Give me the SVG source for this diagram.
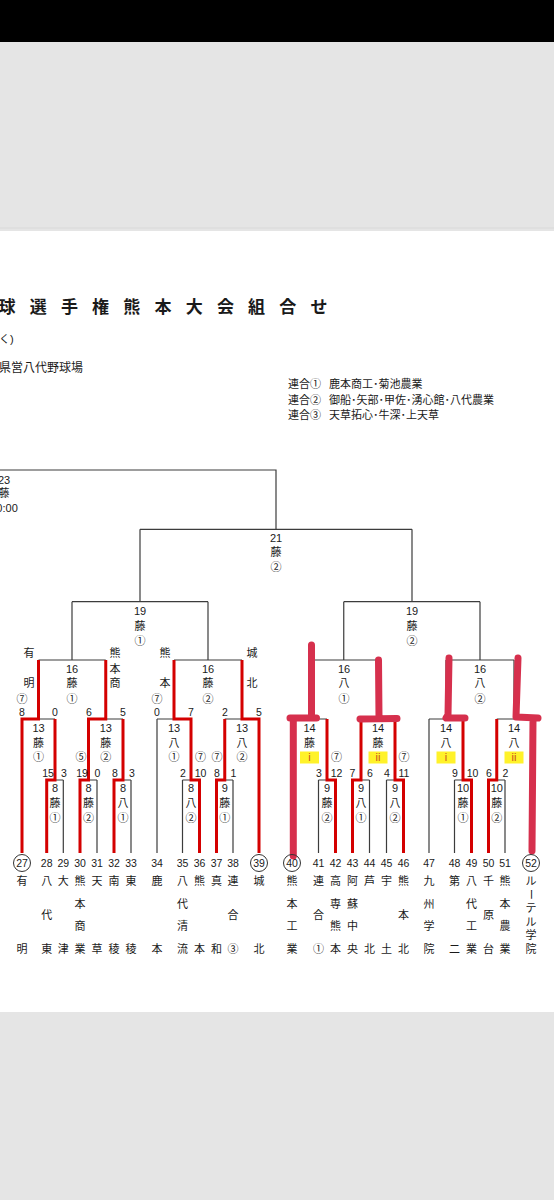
<svg xmlns="http://www.w3.org/2000/svg" width="554" height="1200" viewBox="0 0 554 1200">
<style>
.t{font-family:"Liberation Sans","Noto Sans CJK JP",sans-serif;font-size:11px;fill:#1a1a1a;text-anchor:middle}
.n{font-size:10.5px}
.hd{font-family:"Liberation Sans","Noto Sans CJK JP",sans-serif;fill:#1a1a1a}
.ln{stroke:#3c3c3c;stroke-width:1.2;fill:none}
.rd{stroke:#d40000;stroke-width:3;fill:none}
.mk{stroke:#d6304d;stroke-width:7;fill:none;stroke-linecap:round;stroke-linejoin:round}
.yb{fill:#fff22a}
.yt{fill:#c8501e}
.cc{fill:none;stroke:#333;stroke-width:1}
</style>
<rect x="0" y="0" width="554" height="1200" fill="#e5e5e5"/>
<rect x="0" y="0" width="554" height="42" fill="#000"/>
<line x1="0" y1="228" x2="554" y2="228" stroke="#d9d9d9" stroke-width="1"/>
<rect x="0" y="231" width="554" height="781" fill="#fff"/>

<g id="header">
<text class="hd" font-size="17" font-weight="bold" y="312.5" text-anchor="middle"><tspan x="7">球</tspan><tspan x="38.2">選</tspan><tspan x="69.4">手</tspan><tspan x="100.6">権</tspan><tspan x="131.8">熊</tspan><tspan x="163">本</tspan><tspan x="194.2">大</tspan><tspan x="225.4">会</tspan><tspan x="256.6">組</tspan><tspan x="287.8">合</tspan><tspan x="319">せ</tspan></text>
<text class="hd" font-size="11" x="-1" y="343">く)</text>
<text class="hd" font-size="12" x="-1" y="372">県営八代野球場</text>
<text class="hd" font-size="11" y="388"><tspan x="288">連合①</tspan><tspan x="329">鹿本商工･菊池農業</tspan></text>
<text class="hd" font-size="11" y="404"><tspan x="288">連合②</tspan><tspan x="329">御船･矢部･甲佐･湧心館･八代農業</tspan></text>
<text class="hd" font-size="11" y="419"><tspan x="288">連合③</tspan><tspan x="329">天草拓心･牛深･上天草</tspan></text>
</g>

<g id="connectors">
<path class="ln" d="M0,470 H276 V529.3 M140,529.3 H412 M140,529.3 V601.7 M72,601.7 H208 M412,529.3 V601.7 M343.75,601.7 H480"/>
<path class="ln" d="M72,601.7 V660 M38.5,660 H105.75 M208,601.7 V660 M174,660 H242 M343.75,601.7 V660 M309.5,660 H378 M480,601.7 V660 M446,660 H514"/>
<path class="ln" d="M38.5,660 V719 M22,719 H55 M105.75,660 V719 M88.5,719 H123 M174,660 V719 M157,719 H191 M242,660 V719 M224.75,719 H259 M309.5,660 V719 M292,719 H327 M378,660 V719 M361,719 H395 M446,660 V719 M429,719 H463 M514,660 V719 M496.75,719 H531"/>
<path class="ln" d="M55,719 V780 M46.7,780 H63.3 M88.5,719 V780 M80,780 H97 M123,719 V780 M114,780 H131 M191,719 V780 M182.5,780 H199.5 M224.75,719 V780 M216.5,780 H233 M327,719 V780 M318.5,780 H335.5 M361,719 V780 M352.5,780 H369.5 M395,719 V780 M386.5,780 H403.5 M463,719 V780 M454.5,780 H471.5 M496.75,719 V780 M488.5,780 H505"/>
<path class="ln" d="M22,719 V853 M157,719 V853 M259,719 V853 M292,719 V853 M429,719 V853 M531,719 V853 M46.7,780 V853 M63.3,780 V853 M80,780 V853 M97,780 V853 M114,780 V853 M131,780 V853 M182.5,780 V853 M199.5,780 V853 M216.5,780 V853 M233,780 V853 M318.5,780 V853 M335.5,780 V853 M352.5,780 V853 M369.5,780 V853 M386.5,780 V853 M403.5,780 V853 M454.5,780 V853 M471.5,780 V853 M488.5,780 V853 M505,780 V853"/>
<path class="rd" d="M22,853 V719 H38.5 V660"/>
<path class="rd" d="M46.7,853 V780 H55 V719"/>
<path class="rd" d="M80,853 V780 H88.5 V719 H105.75 V660"/>
<path class="rd" d="M114,853 V780 H123 V719"/>
<path class="rd" d="M199.5,853 V780 H191 V719 H174 V660"/>
<path class="rd" d="M216.5,853 V780 H224.75 V719"/>
<path class="rd" d="M259,853 V719 H242 V660"/>
<path class="rd" d="M335.5,853 V780 H327 V719"/>
<path class="rd" d="M352.5,853 V780 H361 V719"/>
<path class="rd" d="M403.5,853 V780 H395 V719"/>
<path class="rd" d="M471.5,853 V780 H463 V719"/>
<path class="rd" d="M488.5,853 V780 H496.75 V719"/>
<path class="mk" d="M311.5,645 L311.5,718 M316.5,718 L290,718 M293.3,718 L293.3,856"/>
<path class="mk" d="M378.5,660 L379,718 M360,719 L397,718.5"/>
<path class="mk" d="M449,658 L448,715 L446,718 L465,718"/>
<path class="mk" d="M518,658 L516,717 L538,718 M533,720 L532,851"/>
</g>

<g id="m23"><text class="t" x="4" y="484">23</text><text class="t" x="4" y="497">藤</text><text class="t" x="4" y="512">10:00</text></g>
<g id="m21"><text class="t" x="276" y="541.7">21</text><text class="t" x="276" y="555.7">藤</text><text class="t" x="276" y="571">②</text></g>
<g id="m19a"><text class="t" x="140" y="615">19</text><text class="t" x="140" y="630">藤</text><text class="t" x="140" y="645">①</text></g>
<g id="m19b"><text class="t" x="412" y="615">19</text><text class="t" x="412" y="630">藤</text><text class="t" x="412" y="645">②</text></g>

<g id="m16a"><text class="t" x="72" y="673">16</text><text class="t" x="72" y="687">藤</text><text class="t" x="72" y="703">①</text>
<text class="t" x="29" y="657">有</text><text class="t" x="29" y="687">明</text>
<text class="t" x="115" y="657">熊</text><text class="t" x="115" y="673">本</text><text class="t" x="115" y="687">商</text></g>
<g id="m16b"><text class="t" x="208" y="673">16</text><text class="t" x="208" y="687">藤</text><text class="t" x="208" y="703">②</text>
<text class="t" x="165" y="657">熊</text><text class="t" x="165" y="687">本</text>
<text class="t" x="252" y="657">城</text><text class="t" x="252" y="687">北</text></g>
<g id="m16c"><text class="t" x="344" y="673">16</text><text class="t" x="344" y="687">八</text><text class="t" x="344" y="703">①</text></g>
<g id="m16d"><text class="t" x="480" y="673">16</text><text class="t" x="480" y="687">八</text><text class="t" x="480" y="703">②</text></g>

<g id="m13a"><text class="t" x="38.5" y="732">13</text><text class="t" x="38.5" y="747">藤</text><text class="t" x="38.5" y="761">①</text>
<text class="t" x="22" y="703">⑦</text><text class="t n" x="22" y="716">8</text><text class="t n" x="55" y="716">0</text></g>
<g id="m13b"><text class="t" x="105.75" y="732">13</text><text class="t" x="105.75" y="747">藤</text><text class="t" x="105.75" y="761">②</text>
<text class="t n" x="89" y="716">6</text><text class="t n" x="123" y="716">5</text></g>
<g id="m13c"><text class="t" x="174" y="732">13</text><text class="t" x="174" y="747">八</text><text class="t" x="174" y="761">①</text>
<text class="t" x="157" y="703">⑦</text><text class="t n" x="157" y="716">0</text><text class="t n" x="191" y="716">7</text></g>
<g id="m13d"><text class="t" x="242" y="732">13</text><text class="t" x="242" y="747">八</text><text class="t" x="242" y="761">②</text>
<text class="t n" x="225" y="716">2</text><text class="t n" x="259" y="716">5</text></g>
<g id="m14a"><text class="t" x="309.5" y="732">14</text><text class="t" x="309.5" y="747">藤</text><rect class="yb" x="300" y="751.5" width="19" height="12"/><text class="t yt" x="309.5" y="761">i</text></g>
<g id="m14b"><text class="t" x="378" y="732">14</text><text class="t" x="378" y="747">藤</text><rect class="yb" x="368.5" y="751.5" width="19" height="12"/><text class="t yt" x="378" y="761">ii</text></g>
<g id="m14c"><text class="t" x="446" y="732">14</text><text class="t" x="446" y="747">八</text><rect class="yb" x="436.5" y="751.5" width="19" height="12"/><text class="t yt" x="446" y="761">i</text></g>
<g id="m14d"><text class="t" x="514" y="732">14</text><text class="t" x="514" y="747">八</text><rect class="yb" x="504.5" y="751.5" width="19" height="12"/><text class="t yt" x="514" y="761">ii</text></g>

<g id="m8a"><text class="t" x="55" y="792">8</text><text class="t" x="55" y="807">藤</text><text class="t" x="55" y="822">①</text>
<text class="t n" x="48" y="777">15</text><text class="t n" x="64" y="777">3</text></g>
<g id="m8b"><text class="t" x="88.5" y="792">8</text><text class="t" x="88.5" y="807">藤</text><text class="t" x="88.5" y="822">②</text>
<text class="t" x="81" y="761">⑤</text><text class="t n" x="82" y="777">19</text><text class="t n" x="97.5" y="777">0</text></g>
<g id="m8c"><text class="t" x="123" y="792">8</text><text class="t" x="123" y="807">八</text><text class="t" x="123" y="822">①</text>
<text class="t n" x="115" y="777">8</text><text class="t n" x="132" y="777">3</text></g>
<g id="m8d"><text class="t" x="191" y="792">8</text><text class="t" x="191" y="807">八</text><text class="t" x="191" y="822">②</text>
<text class="t n" x="183" y="777">2</text><text class="t n" x="200.5" y="777">10</text><text class="t" x="200.5" y="761">⑦</text></g>
<g id="m9a"><text class="t" x="224.75" y="792">9</text><text class="t" x="224.75" y="807">藤</text><text class="t" x="224.75" y="822">①</text>
<text class="t" x="217" y="761">⑦</text><text class="t n" x="217" y="777">8</text><text class="t n" x="233.5" y="777">1</text></g>
<g id="m9b"><text class="t" x="327" y="792">9</text><text class="t" x="327" y="807">藤</text><text class="t" x="327" y="822">②</text>
<text class="t n" x="319" y="777">3</text><text class="t n" x="336.5" y="777">12</text><text class="t" x="336.5" y="761">⑦</text></g>
<g id="m9c"><text class="t" x="361" y="792">9</text><text class="t" x="361" y="807">八</text><text class="t" x="361" y="822">①</text>
<text class="t n" x="352.5" y="777">7</text><text class="t n" x="370" y="777">6</text></g>
<g id="m9d"><text class="t" x="395" y="792">9</text><text class="t" x="395" y="807">八</text><text class="t" x="395" y="822">②</text>
<text class="t n" x="387" y="777">4</text><text class="t n" x="404" y="777">11</text><text class="t" x="404" y="761">⑦</text></g>
<g id="m10a"><text class="t" x="463" y="792">10</text><text class="t" x="463" y="807">藤</text><text class="t" x="463" y="822">①</text>
<text class="t n" x="455" y="777">9</text><text class="t n" x="472.5" y="777">10</text></g>
<g id="m10b"><text class="t" x="496.75" y="792">10</text><text class="t" x="496.75" y="807">藤</text><text class="t" x="496.75" y="822">②</text>
<text class="t n" x="489" y="777">6</text><text class="t n" x="505.5" y="777">2</text></g>

<g id="team27"><circle class="cc" cx="22" cy="863" r="8.5"/><text class="t n" x="22" y="867">27</text><text class="t"><tspan x="22" y="885">有</tspan><tspan x="22" y="953">明</tspan></text></g>
<g id="team28"><text class="t n" x="46.7" y="867">28</text><text class="t"><tspan x="46.7" y="885">八</tspan><tspan x="46.7" y="919">代</tspan><tspan x="46.7" y="953">東</tspan></text></g>
<g id="team29"><text class="t n" x="63.3" y="867">29</text><text class="t"><tspan x="63.3" y="885">大</tspan><tspan x="63.3" y="953">津</tspan></text></g>
<g id="team30"><text class="t n" x="80" y="867">30</text><text class="t"><tspan x="80" y="885">熊</tspan><tspan x="80" y="907.7">本</tspan><tspan x="80" y="930.3">商</tspan><tspan x="80" y="953">業</tspan></text></g>
<g id="team31"><text class="t n" x="97" y="867">31</text><text class="t"><tspan x="97" y="885">天</tspan><tspan x="97" y="953">草</tspan></text></g>
<g id="team32"><text class="t n" x="114" y="867">32</text><text class="t"><tspan x="114" y="885">南</tspan><tspan x="114" y="953">稜</tspan></text></g>
<g id="team33"><text class="t n" x="131" y="867">33</text><text class="t"><tspan x="131" y="885">東</tspan><tspan x="131" y="953">稜</tspan></text></g>
<g id="team34"><text class="t n" x="157" y="867">34</text><text class="t"><tspan x="157" y="885">鹿</tspan><tspan x="157" y="953">本</tspan></text></g>
<g id="team35"><text class="t n" x="182.5" y="867">35</text><text class="t"><tspan x="182.5" y="885">八</tspan><tspan x="182.5" y="907.7">代</tspan><tspan x="182.5" y="930.3">清</tspan><tspan x="182.5" y="953">流</tspan></text></g>
<g id="team36"><text class="t n" x="199.5" y="867">36</text><text class="t"><tspan x="199.5" y="885">熊</tspan><tspan x="199.5" y="953">本</tspan></text></g>
<g id="team37"><text class="t n" x="216.5" y="867">37</text><text class="t"><tspan x="216.5" y="885">真</tspan><tspan x="216.5" y="953">和</tspan></text></g>
<g id="team38"><text class="t n" x="233" y="867">38</text><text class="t"><tspan x="233" y="885">連</tspan><tspan x="233" y="919">合</tspan><tspan x="233" y="953">③</tspan></text></g>
<g id="team39"><circle class="cc" cx="259" cy="863" r="8.5"/><text class="t n" x="259" y="867">39</text><text class="t"><tspan x="259" y="885">城</tspan><tspan x="259" y="953">北</tspan></text></g>
<g id="team40"><circle class="cc" cx="292" cy="863" r="8.5"/><text class="t n" x="292" y="867">40</text><text class="t"><tspan x="292" y="885">熊</tspan><tspan x="292" y="907.7">本</tspan><tspan x="292" y="930.3">工</tspan><tspan x="292" y="953">業</tspan></text></g>
<g id="team41"><text class="t n" x="318.5" y="867">41</text><text class="t"><tspan x="318.5" y="885">連</tspan><tspan x="318.5" y="919">合</tspan><tspan x="318.5" y="953">①</tspan></text></g>
<g id="team42"><text class="t n" x="335.5" y="867">42</text><text class="t"><tspan x="335.5" y="885">高</tspan><tspan x="335.5" y="907.7">専</tspan><tspan x="335.5" y="930.3">熊</tspan><tspan x="335.5" y="953">本</tspan></text></g>
<g id="team43"><text class="t n" x="352.5" y="867">43</text><text class="t"><tspan x="352.5" y="885">阿</tspan><tspan x="352.5" y="907.7">蘇</tspan><tspan x="352.5" y="930.3">中</tspan><tspan x="352.5" y="953">央</tspan></text></g>
<g id="team44"><text class="t n" x="369.5" y="867">44</text><text class="t"><tspan x="369.5" y="885">芦</tspan><tspan x="369.5" y="953">北</tspan></text></g>
<g id="team45"><text class="t n" x="386.5" y="867">45</text><text class="t"><tspan x="386.5" y="885">宇</tspan><tspan x="386.5" y="953">土</tspan></text></g>
<g id="team46"><text class="t n" x="403.5" y="867">46</text><text class="t"><tspan x="403.5" y="885">熊</tspan><tspan x="403.5" y="919">本</tspan><tspan x="403.5" y="953">北</tspan></text></g>
<g id="team47"><text class="t n" x="429" y="867">47</text><text class="t"><tspan x="429" y="885">九</tspan><tspan x="429" y="907.7">州</tspan><tspan x="429" y="930.3">学</tspan><tspan x="429" y="953">院</tspan></text></g>
<g id="team48"><text class="t n" x="454.5" y="867">48</text><text class="t"><tspan x="454.5" y="885">第</tspan><tspan x="454.5" y="953">二</tspan></text></g>
<g id="team49"><text class="t n" x="471.5" y="867">49</text><text class="t"><tspan x="471.5" y="885">八</tspan><tspan x="471.5" y="907.7">代</tspan><tspan x="471.5" y="930.3">工</tspan><tspan x="471.5" y="953">業</tspan></text></g>
<g id="team50"><text class="t n" x="488.5" y="867">50</text><text class="t"><tspan x="488.5" y="885">千</tspan><tspan x="488.5" y="919">原</tspan><tspan x="488.5" y="953">台</tspan></text></g>
<g id="team51"><text class="t n" x="505" y="867">51</text><text class="t"><tspan x="505" y="885">熊</tspan><tspan x="505" y="907.7">本</tspan><tspan x="505" y="930.3">農</tspan><tspan x="505" y="953">業</tspan></text></g>
<g id="team52"><circle class="cc" cx="531" cy="863" r="8.5"/><text class="t n" x="531" y="867">52</text><text class="t"><tspan x="531" y="885">ル</tspan><tspan x="531" y="912.2">テ</tspan><tspan x="531" y="925.8">ル</tspan><tspan x="531" y="939.4">学</tspan><tspan x="531" y="953">院</tspan></text><text class="t" transform="translate(531,894.6) rotate(90)" dominant-baseline="central">ー</text></g>
</svg>
